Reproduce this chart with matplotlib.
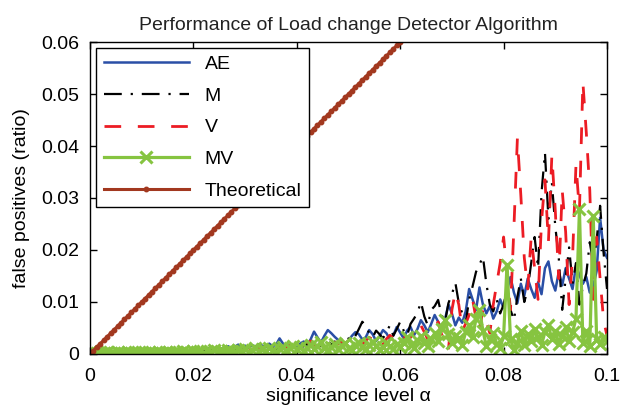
import numpy as np
import matplotlib
matplotlib.use("Agg")
import matplotlib.pyplot as plt

plt.rcParams['font.family'] = ['Liberation Sans', 'DejaVu Sans']

# significance levels (151 evaluated points, 0 .. 0.1)
alpha = np.arange(151) / 1500.0

ae = [0, 0.0002, 0.0001, 0.0003, 0.0002, 0.0001, 0.0003, 0.0002, 0.0001, 0.0002,
      0.0003, 0.0002, 0.0001, 0.0003, 0.0002, 0.0004, 0.0002, 0.0003, 0.0001, 0.0002,
      0.0004, 0.0003, 0.0005, 0.0003, 0.0004, 0.0006, 0.0004, 0.0005, 0.0007, 0.0005,
      0.0008, 0.0006, 0.0009, 0.0007, 0.0010, 0.0012, 0.0009, 0.0013, 0.0010, 0.0012,
      0.0015, 0.0011, 0.0014, 0.0018, 0.0013, 0.0016, 0.0012, 0.0017, 0.0014, 0.0019,
      0.0016, 0.0013, 0.0020, 0.0015, 0.0018, 0.0030, 0.0020, 0.0014, 0.0019, 0.0016,
      0.0013, 0.0020, 0.0024, 0.0017, 0.0028, 0.0043, 0.0032, 0.0022, 0.0035, 0.0046,
      0.0040, 0.0033, 0.0027, 0.0021, 0.0018, 0.0026, 0.0035, 0.0042, 0.0038, 0.0028,
      0.0032, 0.0046, 0.0038, 0.0025, 0.0034, 0.0046, 0.0040, 0.0028, 0.0036, 0.0052,
      0.0041, 0.0030, 0.0045, 0.0052, 0.0036, 0.0048, 0.0065, 0.0055, 0.0042, 0.0058,
      0.0075, 0.0062, 0.0048, 0.0067, 0.0095, 0.0078, 0.0055, 0.0070, 0.0060, 0.0082,
      0.0125, 0.0105, 0.0085, 0.0128, 0.0095, 0.0078, 0.0092, 0.0068, 0.0082, 0.0105,
      0.0088, 0.0122, 0.0148, 0.0118, 0.0098, 0.0135, 0.0112, 0.0145, 0.0125, 0.0108,
      0.0138, 0.0115, 0.0165, 0.0178, 0.0140, 0.0122, 0.0158, 0.0132, 0.0165, 0.0145,
      0.0125, 0.0170, 0.0152, 0.0135, 0.0148, 0.0118, 0.0130, 0.0160, 0.0262, 0.0200,
      0.0185]

m = [0, 0.0001, 0.0002, 0.0001, 0, 0.0002, 0.0001, 0.0002, 0.0001, 0.0003,
     0.0002, 0.0001, 0.0003, 0.0002, 0.0004, 0.0002, 0.0003, 0.0001, 0.0004, 0.0002,
     0.0003, 0.0005, 0.0002, 0.0004, 0.0006, 0.0003, 0.0005, 0.0004, 0.0007, 0.0005,
     0.0006, 0.0004, 0.0008, 0.0006, 0.0005, 0.0009, 0.0007, 0.0010, 0.0006, 0.0008,
     0.0011, 0.0007, 0.0009, 0.0012, 0.0008, 0.0010, 0.0014, 0.0009, 0.0011, 0.0008,
     0.0012, 0.0010, 0.0015, 0.0011, 0.0009, 0.0014, 0.0012, 0.0016, 0.0010, 0.0013,
     0.0018, 0.0012, 0.0015, 0.0020, 0.0014, 0.0017, 0.0022, 0.0015, 0.0019, 0.0025,
     0.0018, 0.0024, 0.0020, 0.0028, 0.0022, 0.0030, 0.0025, 0.0035, 0.0048, 0.0062,
     0.0055, 0.0040, 0.0032, 0.0045, 0.0038, 0.0030, 0.0042, 0.0055, 0.0035, 0.0048,
     0.0062, 0.0045, 0.0035, 0.0058, 0.0068, 0.0079, 0.0100, 0.0072, 0.0055, 0.0085,
     0.0092, 0.0104, 0.0075, 0.0062, 0.0098, 0.0115, 0.0137, 0.0098, 0.0078, 0.0060,
     0.0105, 0.0130, 0.0158, 0.0172, 0.0187, 0.0135, 0.0095, 0.0082, 0.0105, 0.0078,
     0.0095, 0.0125, 0.0085, 0.0065, 0.0110, 0.0145, 0.0100, 0.0125, 0.0175, 0.0225,
     0.0165, 0.0310, 0.0387, 0.0260, 0.0330, 0.0245, 0.0185, 0.0085, 0.0145, 0.0205,
     0.0135, 0.0175, 0.0095, 0.0130, 0.0155, 0.0215, 0.0175, 0.0220, 0.0285, 0.0195,
     0.0125]

v = [0.0001, 0, 0.0002, 0.0001, 0.0003, 0.0001, 0.0002, 0, 0.0002, 0.0001,
     0.0003, 0.0001, 0.0002, 0.0004, 0.0002, 0.0001, 0.0003, 0.0002, 0.0004, 0.0002,
     0.0003, 0.0002, 0.0005, 0.0003, 0.0004, 0.0002, 0.0005, 0.0004, 0.0006, 0.0003,
     0.0005, 0.0007, 0.0004, 0.0006, 0.0008, 0.0005, 0.0007, 0.0009, 0.0006, 0.0008,
     0.0007, 0.0010, 0.0008, 0.0006, 0.0011, 0.0009, 0.0012, 0.0008, 0.0010, 0.0013,
     0.0011, 0.0009, 0.0014, 0.0012, 0.0010, 0.0016, 0.0013, 0.0011, 0.0018, 0.0014,
     0.0012, 0.0017, 0.0015, 0.0020, 0.0025, 0.0018, 0.0014, 0.0020, 0.0023, 0.0017,
     0.0015, 0.0022, 0.0019, 0.0024, 0.0018, 0.0026, 0.0021, 0.0028, 0.0023, 0.0019,
     0.0025, 0.0032, 0.0028, 0.0035, 0.0022, 0.0018, 0.0029, 0.0036, 0.0030, 0.0022,
     0.0028, 0.0035, 0.0025, 0.0032, 0.0045, 0.0038, 0.0055, 0.0042, 0.0028, 0.0035,
     0.0048, 0.0062, 0.0038, 0.0015, 0.0008, 0.0085, 0.0120, 0.0095, 0.0045, 0.0058,
     0.0075, 0.0105, 0.0068, 0.0045, 0.0085, 0.0062, 0.0040, 0.0095, 0.0135, 0.0175,
     0.0225, 0.0155, 0.0085, 0.0245, 0.0415, 0.0305, 0.0185, 0.0125, 0.0225, 0.0165,
     0.0105, 0.0255, 0.0335, 0.0215, 0.0382, 0.0275, 0.0145, 0.0315, 0.0235, 0.0095,
     0.0185, 0.0365, 0.0275, 0.0523, 0.0425, 0.0315, 0.0105, 0.0225, 0.0145, 0.0065,
     0.0035]

mv = [0.0003, 0.0001, 0.0002, 0.0004, 0.0001, 0.0003, 0.0002, 0.0001, 0.0003, 0.0002,
      0.0001, 0.0003, 0.0002, 0.0004, 0.0001, 0.0003, 0.0002, 0.0004, 0.0002, 0.0001,
      0.0003, 0.0002, 0.0004, 0.0003, 0.0001, 0.0004, 0.0002, 0.0005, 0.0003, 0.0002,
      0.0005, 0.0003, 0.0006, 0.0002, 0.0005, 0.0004, 0.0007, 0.0003, 0.0006, 0.0004,
      0.0007, 0.0005, 0.0003, 0.0008, 0.0005, 0.0009, 0.0004, 0.0007, 0.0011, 0.0006,
      0.0009, 0.0005, 0.0012, 0.0008, 0.0004, 0.0010, 0.0014, 0.0007, 0.0011, 0.0016,
      0.0009, 0.0013, 0.0006, 0.0012, 0.0018, 0.0010, 0.0015, 0.0024, 0.0012, 0.0008,
      0.0014, 0.0019, 0.0010, 0.0016, 0.0021, 0.0012, 0.0008, 0.0018, 0.0022, 0.0013,
      0.0009, 0.0017, 0.0024, 0.0015, 0.0008, 0.0013, 0.0021, 0.0016, 0.0010, 0.0019,
      0.0014, 0.0022, 0.0032, 0.0018, 0.0011, 0.0026, 0.0035, 0.0021, 0.0015, 0.0028,
      0.0040, 0.0025, 0.0048, 0.0065, 0.0038, 0.0022, 0.0035, 0.0030, 0.0018, 0.0042,
      0.0055, 0.0032, 0.0068, 0.0085, 0.0045, 0.0015, 0.0028, 0.0040, 0.0020, 0.0012,
      0.0035, 0.0172, 0.0028, 0.0008, 0.0022, 0.0045, 0.0018, 0.0038, 0.0025, 0.0048,
      0.0032, 0.0018, 0.0042, 0.0055, 0.0028, 0.0045, 0.0020, 0.0035, 0.0052, 0.0025,
      0.0042, 0.0068, 0.0278, 0.0022, 0.0045, 0.0015, 0.0265, 0.0028, 0.0020, 0.0032,
      0.0025]

theoretical = alpha  # expected false positive ratio equals the significance level

fig = plt.figure(figsize=(6.22, 4.11), dpi=100)
ax = fig.add_axes([0.1447, 0.1387, 0.8312, 0.7591])

ax.plot(alpha, ae, color='#2a4fa6', lw=1.8, label='AE')
ax.plot(alpha, m, color='black', lw=1.6, linestyle=(0, (8, 4, 1, 4)), label='M')
ax.plot(alpha, v, color='#ec1c24', lw=2, linestyle=(0, (6, 6)), label='V')
ax.plot(alpha, mv, color='#86c440', lw=2.3, marker='x', markersize=8, markeredgewidth=2.2, label='MV')
ax.plot(alpha, theoretical, color='#a2381f', lw=2.2, marker='o', markersize=3.2, label='Theoretical')

ax.set_xlim(0, 0.1)
ax.set_ylim(0, 0.06)
ax.set_xticks([0, 0.02, 0.04, 0.06, 0.08, 0.1])
ax.set_xticklabels(['0', '0.02', '0.04', '0.06', '0.08', '0.1'])
ax.set_yticks([0, 0.01, 0.02, 0.03, 0.04, 0.05, 0.06])
ax.set_yticklabels(['0', '0.01', '0.02', '0.03', '0.04', '0.05', '0.06'])
ax.tick_params(direction='in', top=True, right=True, length=5, width=1, labelsize=14)
ax.tick_params(axis='x', pad=10)
ax.tick_params(axis='y', pad=8)
for s in ax.spines.values():
    s.set_linewidth(1)

ax.set_title('Performance of Load change Detector Algorithm', fontsize=14, color='#222222', pad=9)
ax.set_xlabel('significance level α', fontsize=14, labelpad=2)
ax.set_ylabel('false positives (ratio)', fontsize=14, labelpad=8)

leg = ax.legend(loc='upper left', fontsize=14, handlelength=4.4, labelspacing=0.72,
                fancybox=False, framealpha=1, edgecolor='black', borderaxespad=0.3)
leg.get_frame().set_linewidth(1)

fig.savefig('out.png', dpi=100)
